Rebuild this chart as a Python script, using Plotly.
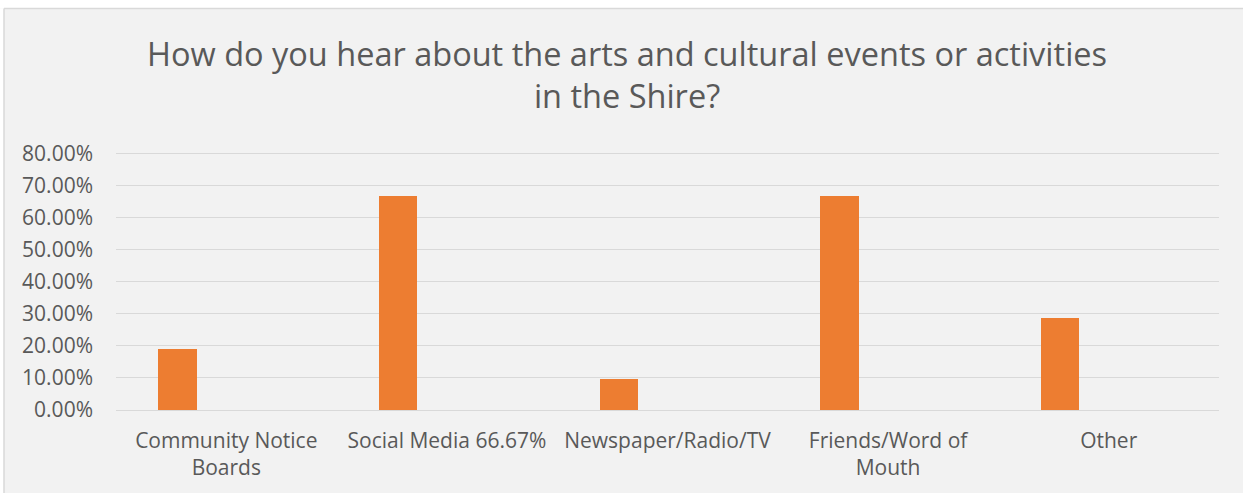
import plotly.graph_objects as go

# Survey responses (share of respondents)
categories = [
    "Community Notice<br>Boards",
    "Social Media 66.67%",
    "Newspaper/Radio/TV",
    "Friends/Word of<br>Mouth",
    "Other",
]
shares = [0.1905, 0.6667, 0.0952, 0.6667, 0.2857]
y_ticks = [0.0, 0.1, 0.2, 0.3, 0.4, 0.5, 0.6, 0.7, 0.8]
y_tick_labels = ["0.00%", "10.00%", "20.00%", "30.00%", "40.00%",
                 "50.00%", "60.00%", "70.00%", "80.00%"]
title_text = ("How do you hear about the arts and cultural events or activities"
              "<br>in the Shire?")

W, H = 1243, 493
Y_MAX = 0.81
L, R, B = 116, 24, 83.3
T = 153.5 - 32.02 * 10 * (Y_MAX - 0.8)
PW, PH = W - L - R, H - T - B


def px_x(px):
    return (px - L) / PW


def px_y(py):
    return (H - B - py) / PH


FONT = "Open Sans"
TEXT_COLOR = "#595959"

fig = go.Figure(
    go.Bar(
        x=list(range(len(categories))),
        y=shares,
        width=0.174,
        offset=-0.308,
        marker=dict(color="#ed7d31", line=dict(width=0)),
        hovertemplate="%{y:.2%}<extra></extra>",
    )
)

fig.update_layout(
    width=W,
    height=H,
    margin=dict(l=L, r=R, t=T, b=B, pad=0),
    paper_bgcolor="#f2f2f2",
    plot_bgcolor="#f2f2f2",
    showlegend=False,
    bargap=0,
    xaxis=dict(
        range=[-0.5, len(categories) - 0.5],
        tickmode="array",
        tickvals=list(range(len(categories))),
        ticktext=categories,
        showgrid=False,
        zeroline=False,
        showline=False,
        ticks="",
        ticklabelstandoff=16,
        tickfont=dict(family=FONT, size=21, color=TEXT_COLOR),
        fixedrange=True,
    ),
    yaxis=dict(
        range=[0, Y_MAX],
        tickmode="array",
        tickvals=y_ticks,
        ticktext=y_tick_labels,
        showgrid=True,
        gridcolor="#d9d9d9",
        gridwidth=1,
        zeroline=True,
        zerolinecolor="#d9d9d9",
        zerolinewidth=1,
        showline=False,
        ticks="",
        ticklabelstandoff=22,
        tickfont=dict(family=FONT, size=21, color=TEXT_COLOR),
        fixedrange=True,
    ),
    shapes=[
        # white surround outside the chart frame
        dict(type="rect", xref="paper", yref="paper",
             x0=px_x(-5), x1=px_x(W + 5), y0=px_y(9), y1=px_y(-5),
             fillcolor="white", line=dict(width=0), layer="below"),
        dict(type="rect", xref="paper", yref="paper",
             x0=px_x(-5), x1=px_x(4), y0=px_y(H + 5), y1=px_y(9),
             fillcolor="white", line=dict(width=0), layer="below"),
        # chart frame border
        dict(type="line", xref="paper", yref="paper",
             x0=px_x(4), x1=px_x(W + 5), y0=px_y(9), y1=px_y(9),
             line=dict(color="#d9d9d9", width=1.5), layer="below"),
        dict(type="line", xref="paper", yref="paper",
             x0=px_x(4), x1=px_x(4), y0=px_y(9), y1=px_y(H + 5),
             line=dict(color="#d9d9d9", width=1.5), layer="below"),
    ],
    annotations=[
        dict(text=title_text, xref="paper", yref="paper",
             x=px_x(627), y=px_y(75), xanchor="center", yanchor="middle",
             showarrow=False, align="center",
             font=dict(family=FONT, size=32.5, color=TEXT_COLOR)),
    ],
)

fig.write_html("out.html", config={"displayModeBar": False})
